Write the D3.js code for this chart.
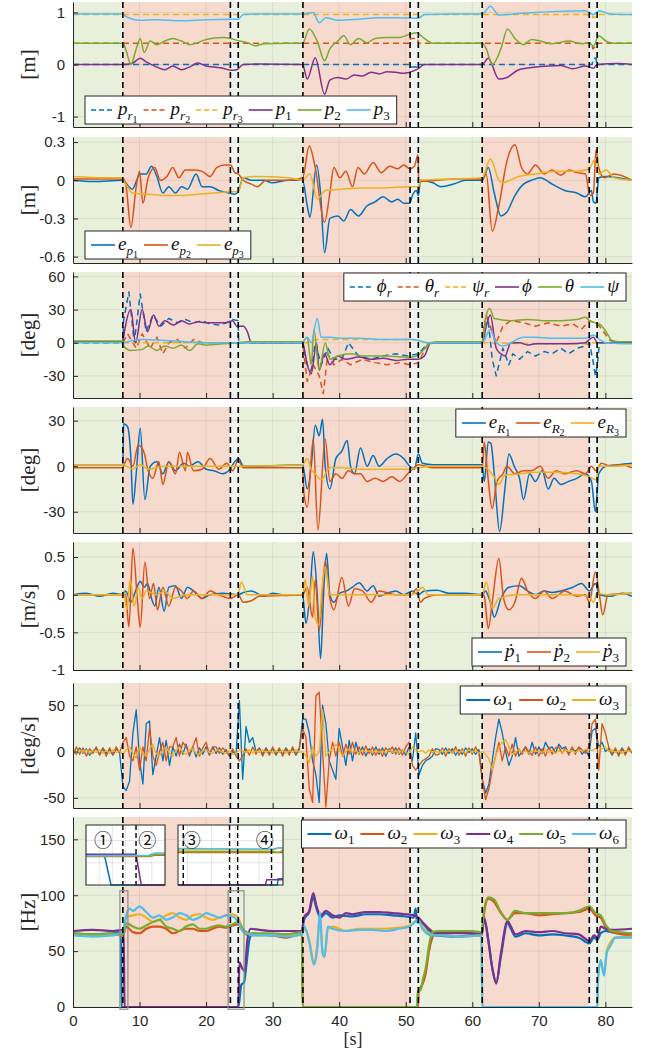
<!DOCTYPE html>
<html>
<head>
<meta charset="utf-8">
<script src="https://cdn.jsdelivr.net/npm/d3@7"></script>
<style>
  body { margin: 0; background: #fff; }
</style>
</head>
<body>
<div id="chart"></div>
<script>
const W = 646, H = 1050;
const X0 = 73, X1 = 632;

const C = {blue: "#0072BD", orange: "#D95319", yellow: "#EDB120", purple: "#7E2F8E", green: "#77AC30", cyan: "#4DBEEE"};

// event markers and phases
const eventLines = [7.49, 23.65, 24.83, 34.55, 50.65, 51.89, 61.49, 77.58, 78.76];
const bands = [[0, 7.49, "g"], [7.49, 23.65, "p"], [23.65, 24.83, "w"], [24.83, 34.55, "g"], [34.55, 50.65, "p"],
  [50.65, 51.89, "w"], [51.89, 61.49, "g"], [61.49, 77.58, "p"], [77.58, 78.76, "w"], [78.76, 84, "g"]];
const bandFill = {g: "#e8f0db", p: "#f6dacd", w: "#f1f3f1"};
const xTicks = [0, 10, 20, 30, 40, 50, 60, 70, 80];

// ---- panel 1: positions [m]
const pr1 = [[0,0],[50.6,0],[50.7,-0.05],[51.8,-0.05],[51.9,0],[78.0,0],[78.2,0.12],[78.6,0.12],[78.7,0],[84,0]];
const pr2 = [[0,0.41],[50.6,0.41],[50.7,0.5],[51.8,0.5],[51.9,0.41],[78.0,0.41],[78.1,0.3],[78.6,0.35],[78.7,0.41],[84,0.41]];
const pr3 = [[0,0.96],[78.0,0.96],[78.1,0.9],[78.7,0.92],[78.8,0.96],[84,0.96]];
const p1 = [[0,0],[7.5,0],[9,0.03],[10.1,0.12],[11,0.05],[12.6,-0.05],[13.8,-0.1],[15,-0.03],[16.3,-0.1],[17.5,-0.05],[18.8,0.03],[20,-0.03],[21.2,-0.05],[22.5,-0.07],[23.7,-0.11],[24.6,-0.1],[25.6,0],[28,0.01],[34.5,0],[35.2,-0.28],[36.4,0.13],[37.8,-0.57],[38.6,-0.3],[39.8,-0.25],[41,-0.28],[42.3,-0.2],[43.5,-0.22],[44.8,-0.15],[46,-0.18],[47.2,-0.14],[48.5,-0.15],[49.7,-0.17],[50.6,-0.15],[51.9,-0.08],[52.8,0],[61.5,0],[62.4,0.12],[64,-0.28],[65.2,-0.25],[67,-0.1],[69.5,-0.05],[71.4,-0.03],[73.3,-0.02],[75.1,-0.08],[77,-0.03],[78.2,-0.07],[78.8,0],[81.9,0.02],[84,0]];
const p2 = [[0,0.41],[7.5,0.41],[7.9,0.3],[8.7,0],[9.5,0.3],[10.1,0.5],[10.7,0.23],[11.6,0.45],[12.6,0.38],[13.8,0.45],[15,0.5],[16.3,0.45],[17.5,0.38],[18.8,0.42],[20,0.48],[22.5,0.52],[23.7,0.5],[25,0.45],[26.2,0.42],[27.4,0.36],[28.7,0.4],[32.4,0.41],[34.5,0.41],[35.5,0.68],[36.7,0.45],[37.8,0.07],[38.6,0.3],[39.8,0.45],[40.7,0.55],[41.7,0.38],[42.9,0.5],[44.2,0.42],[45.4,0.5],[47.2,0.52],[49.1,0.52],[50.6,0.58],[51.6,0.61],[52.8,0.5],[54.1,0.41],[61.5,0.41],[62.1,0.3],[63,0],[64.3,0.3],[65.3,0.68],[66.4,0.5],[67.7,0.38],[68.9,0.48],[70.2,0.45],[72,0.4],[74.5,0.45],[76.4,0.4],[77.6,0.42],[78.2,0.35],[79,0.55],[80.1,0.45],[81.3,0.41],[84,0.41]];
const p3 = [[0,0.97],[7.5,0.97],[7.6,0.95],[10.1,0.85],[12.6,0.86],[16.3,0.84],[20,0.86],[23.7,0.87],[24.8,0.87],[25.6,0.96],[28.7,0.97],[34.5,0.97],[36.1,1.0],[37,0.8],[38,0.9],[39.8,0.85],[42.9,0.87],[46,0.9],[48.5,0.9],[51.9,0.89],[52.8,0.96],[57.2,0.97],[61.5,0.97],[62.7,1.12],[64,0.95],[67,0.98],[69.5,1.0],[72.6,1.02],[77,1.03],[78.2,0.96],[79.1,1.03],[80.7,0.97],[84,0.96]];

// ---- panel 2: position errors [m]
const ep1 = [[0,0],[3,-0.01],[7.5,0],[7.9,-0.02],[8.9,-0.07],[10.1,0.05],[11,0.05],[11.8,0.11],[12.6,0.03],[13.5,-0.1],[14.4,-0.05],[15.4,-0.1],[16.3,-0.05],[17.2,-0.07],[18.5,0.05],[19.4,-0.05],[20.6,-0.05],[21.9,-0.08],[23.4,-0.1],[24.3,-0.11],[24.8,-0.09],[25.6,0.02],[26.8,0],[28.7,0],[29.9,-0.02],[32.4,0],[34.5,0],[35.2,-0.2],[35.6,-0.29],[36.6,0.12],[37.2,-0.1],[37.8,-0.57],[38.6,-0.3],[39.8,-0.28],[40.7,-0.32],[41.7,-0.23],[42.9,-0.28],[44.2,-0.2],[45.4,-0.17],[46.6,-0.13],[47.9,-0.17],[48.8,-0.15],[49.7,-0.18],[50.6,-0.18],[51,-0.12],[51.6,-0.08],[51.9,-0.12],[52.2,0],[54.1,-0.02],[55.3,-0.05],[57.2,-0.03],[59,0],[61.5,0],[62.4,0.1],[63.3,-0.1],[64.3,-0.28],[65.2,-0.25],[66.4,-0.12],[67.7,-0.03],[68.9,0],[70.2,0.02],[72,-0.03],[73.9,-0.08],[75.7,-0.1],[77,-0.13],[77.9,-0.08],[78.2,-0.17],[78.6,-0.18],[79,0.02],[80.1,0.03],[81.9,0.02],[84,0]];
const ep2 = [[0,0.01],[7.5,0.01],[7.9,-0.02],[8.7,-0.37],[9.5,-0.05],[10,0.07],[10.5,-0.18],[11.3,0.02],[12.3,0.1],[13.1,0],[14.1,0.03],[15,0.1],[15.9,0.02],[16.9,0.08],[18.1,0.08],[19.4,0.07],[20.6,0.03],[21.6,0.1],[22.8,0.12],[23.7,0.12],[24.3,0.06],[24.8,0.05],[25.6,0],[26.8,-0.03],[27.7,-0.05],[29,0],[32.4,0],[34.5,0.02],[35.5,0.27],[36.4,0.1],[37.8,-0.33],[38.6,-0.1],[39.2,0.1],[40.1,0.02],[41,0.07],[42,-0.05],[42.8,0.1],[43.8,0.05],[45.1,0.14],[46.3,0.06],[47.6,0.11],[48.8,0.09],[49.7,0.12],[50.6,0.09],[51.3,0.11],[51.85,0.2],[51.95,-0.01],[54.7,0],[57.2,0.01],[61.5,0.01],[62.1,0.05],[63,-0.4],[64,-0.2],[65.2,0.15],[66.4,0.28],[67.4,0.1],[68.3,0.05],[69.5,0.12],[70.8,0.05],[72,0.08],[73.3,0.04],[74.5,0.08],[75.7,0.06],[77,0.05],[77.7,-0.12],[78.2,-0.1],[78.6,0.24],[79,0.1],[79.8,0.02],[81.3,0.05],[84,0]];
const ep3 = [[0,0.03],[5,0.02],[7.5,0.02],[7.6,0],[8.2,-0.05],[8.9,-0.1],[11.3,-0.11],[13.8,-0.12],[16.3,-0.12],[18.8,-0.11],[21.2,-0.1],[23.7,-0.09],[24.8,-0.09],[25.6,0.02],[27.4,0.03],[32.4,0.02],[34.5,0],[35.6,0.05],[36.7,-0.15],[37.9,-0.08],[40.4,-0.07],[43.5,-0.06],[46.6,-0.06],[50.6,-0.05],[51.9,-0.05],[52.2,0],[57.2,0.01],[61.5,0.02],[62.7,0.17],[64,0],[64.5,-0.02],[67,0.03],[69.5,0.05],[72.6,0.07],[75.7,0.07],[77.6,0.09],[78.2,0.15],[78.6,0.17],[79,0.05],[80.1,0.08],[81.3,0.02],[84,0]];

// ---- panel 3: attitude [deg]
const phiR = [[0,0],[7.5,0],[7.6,20],[8.4,46],[9.2,0],[10.1,44],[11,10],[12,25],[13.2,15],[14.4,22],[15.7,18],[16.9,21],[18.1,18],[19.4,20],[20.6,17],[21.9,16],[23.1,18],[24,21],[24.8,20],[24.9,0],[34.5,0],[35.2,-20],[35.8,-25],[36.4,0],[37.3,-20],[38.3,-5],[39.2,-15],[40.4,-15],[41.4,0],[42.9,-12],[44.8,-15],[46.6,-12],[48.5,-10],[50.3,-12],[51.9,-10],[53.4,0],[61.5,0],[61.8,15],[62.4,20],[63,-15],[63.6,-30],[64.6,-5],[65.5,-20],[66.1,-10],[67.1,-15],[68.3,-8],[69.5,-12],[70.8,-8],[72,-10],[73.3,-5],[74.5,-10],[75.7,-5],[77,-3],[77.6,0],[78.1,-15],[78.5,-30],[78.8,-20],[79.1,0],[84,0]];
const thetaR = [[0,0],[7.5,0],[8.2,8],[9.5,-5],[10.4,8],[11.6,-5],[12.6,5],[13.5,-10],[14.4,0],[15.7,3],[16.9,-5],[18.1,3],[19.4,0],[24.8,0],[34.5,0],[35.2,-35],[36.1,-20],[37,-30],[37.6,-46],[38.3,-10],[39.2,-20],[40.4,-15],[41.7,-20],[43.5,-15],[45.4,-18],[47.2,-20],[49.1,-18],[50.6,-20],[51.9,-18],[53.4,0],[61.5,0],[61.8,15],[62.1,25],[63,10],[63.6,0],[64.6,15],[65.8,20],[67.7,18],[69.5,15],[71.4,18],[73.3,15],[75.1,17],[76.4,12],[77.6,20],[78.5,18],[79.1,15],[80.7,2],[81.9,0],[84,0]];
const psiR = [[0,0],[35,0],[36.5,3],[50.6,3],[51.9,2],[53,0],[61.5,0],[70,-1],[77,-1],[78,0],[84,0]];
const phi = [[0,1],[7.5,1],[7.6,5],[8.7,30],[9.4,0],[10.4,30],[11.2,10],[12.1,25],[12.9,15],[13.8,20],[15.1,16],[16.3,20],[17.5,17],[18.8,19],[20,18],[21.2,18],[22.8,18],[24,20],[24.6,15],[25.6,15],[26.2,10],[26.8,0],[28,0],[34.5,0],[35.2,-20],[35.8,-28],[36.6,0],[37,-25],[37.8,-10],[38.6,-20],[39.8,-12],[41,-15],[42.9,-13],[44.8,-15],[46.6,-14],[48.5,-16],[50.3,-15],[51.9,-15],[52.8,-12],[53.8,0],[61.5,0],[62.1,15],[62.7,25],[63.6,-5],[64.3,-10],[64.9,-12],[65.8,0],[67.1,0],[68.3,-2],[69.5,-1],[72,-1],[74.5,-1],[77,0],[77.6,3],[78.2,5],[78.8,0],[84,0]];
const theta = [[0,1.5],[7.5,1.5],[7.6,-3],[8.7,-7],[10.4,-6],[11.3,-3],[12.6,-7],[13.8,-3],[15,-5],[16.3,-2],[17.5,-7],[18.8,-1],[20,-2],[22.5,-1],[24.6,0],[26.2,1],[34.5,1],[35.2,5],[35.8,-20],[36.2,12],[37,-25],[37.9,0],[38.6,-15],[39.8,-12],[41.7,-10],[43.5,-12],[45.4,-12],[47.2,-12],[49.7,-13],[51,-13],[51.9,-11],[53.8,0],[54.7,1],[61.5,1],[62.1,25],[62.6,31],[63.3,22],[65.8,20],[68.3,21],[70.8,20],[73.3,20],[75.7,21],[77,23],[77.6,20],[78.5,18],[79.1,17],[80.1,10],[81,2],[81.9,1],[84,1]];
const psi = [[0,0],[7.5,0],[8.9,2],[10.7,3],[13.8,2],[16.9,1],[20,0],[24.8,0],[34.5,0],[35.2,5],[35.8,0],[36.7,22],[37.3,5],[38.6,5],[40.4,4],[42.9,4],[46,3],[49.1,3],[50.9,3],[51.9,2],[53.4,0],[61.5,0],[62.7,12],[63.6,0],[64.6,-3],[65.8,0],[67.7,5],[69.5,5],[72,4],[74.5,4],[77,4],[78.2,7],[79.1,3],[80.1,0],[84,-1]];

// ---- panel 4: attitude errors [deg]
const eR1 = [[0,1],[7.5,1],[7.6,28],[8.2,26],[8.7,5],[9,-25],[9.5,-5],[10.1,25],[10.8,-22],[11.6,0],[12.6,3],[13.5,-5],[14.4,3],[15.4,-3],[16.6,2],[17.5,0],[18.8,3],[20,-2],[21.2,-3],[22.5,-5],[23.4,-3],[24.3,3],[24.9,5],[25.6,0],[27.4,0],[34.5,1],[35.2,-15],[35.8,0],[36.4,27],[37,20],[37.5,31],[37.9,0],[38.6,-15],[39.5,5],[40.4,10],[41.2,17],[41.7,0],[42.3,-5],[43.2,12],[44.2,0],[45.1,7],[46,0],[47.2,5],[48.5,8],[49.7,5],[50.6,0],[51.3,-2],[51.9,8],[52.5,2],[54.1,1],[61.5,1],[61.8,-10],[62.4,16],[62.8,15],[63.3,-5],[64.1,-43],[64.9,-15],[65.5,8],[66.3,0],[67.1,-8],[67.7,-22],[68.6,-5],[69.5,-10],[70.5,-3],[71.4,-15],[72.3,-8],[73.3,-12],[74.5,-10],[75.7,-8],[77,-5],[77.9,-10],[78.5,-30],[79,-5],[80.1,0],[81.9,1],[84,2]];
const eR2 = [[0,-1],[7.5,-1],[7.6,0],[8.2,5],[9,0],[9.8,14],[10.6,10],[11.3,-3],[12,-8],[12.9,3],[13.5,-12],[14.4,3],[15.4,-5],[16,9],[16.9,-3],[17.2,9],[18.1,-3],[19.4,-2],[20.6,5],[21.9,-2],[23.1,2],[24,-3],[24.8,4],[25.6,-1],[34.5,-1],[34.7,-18],[35.2,-27],[36.1,18],[36.8,-42],[37.9,18],[38.6,-10],[39.5,-5],[40.4,-8],[41.4,-3],[42.3,-5],[43.2,-5],[44.2,-10],[45.4,-8],[46.6,-10],[47.9,-7],[49.1,-10],[50.3,-5],[51,-2],[51.9,1],[54.1,-1],[61.5,-1],[61.8,16],[62.3,-5],[63,-28],[63.7,-10],[64.6,-5],[65.2,0],[66.4,-5],[67.7,-3],[68.9,-3],[70.2,0],[71.4,-8],[72.6,-3],[73.9,-5],[75.7,-3],[77,-5],[77.9,0],[78.6,-3],[79.4,2],[80.7,0],[82.5,1],[84,-1]];
const eR3 = [[0,1],[7.5,1],[8.9,-2],[10.1,1],[11.3,-2],[13.8,0],[20,0],[24.8,0],[34.5,1],[35.2,5],[35.8,-2],[36.4,-5],[37.3,-9],[38.6,-1],[40.4,-1],[42.9,-2],[46.6,-2],[50.3,-2],[51.9,-1],[54.1,0],[61.5,0],[63.3,-7],[64,-12],[64.9,-6],[67.1,-5],[69.5,-4],[72.6,-4],[75.7,-5],[77.6,-7],[78.6,-9],[79,0],[80.7,0],[84,1]];

// ---- panel 5: velocities [m/s]
const pd1 = [[0,0],[2,0.02],[4,-0.02],[6,0.02],[7.5,0],[7.9,0.05],[8.7,-0.1],[9.4,0.05],[10.1,0.18],[10.7,0.1],[11.2,0.15],[11.8,-0.05],[12.3,-0.15],[12.9,0.1],[13.7,-0.22],[14.4,0.1],[15.4,0.12],[16.3,-0.05],[17.2,0.1],[18.1,0.05],[19.4,-0.05],[20.6,0],[22.5,0.02],[24.8,0],[25.6,0.03],[26.8,0.05],[28.7,-0.02],[30,0.02],[32,-0.01],[34.5,0],[35,-0.38],[35.6,0],[36.1,0.57],[36.7,0],[37.2,-0.85],[37.7,0.1],[38.1,0.55],[38.6,0],[39.2,-0.1],[40.1,0.02],[41.1,0.05],[42,0.1],[43,0.16],[44.2,0.05],[45.1,0.12],[46,-0.02],[47.2,0.02],[48.5,0.05],[49.7,0],[51,0.05],[51.9,0],[52.8,0.05],[54.7,0.06],[56.5,0.02],[59,0.02],[61.5,0],[62,0.05],[62.7,-0.1],[63.3,-0.3],[64.3,-0.05],[65.5,0.1],[67.1,0.12],[68.3,0.05],[69.5,0],[70.8,0.05],[72,0.03],[73.3,0.05],[75.1,0.1],[76.4,0.15],[77.6,0.05],[78.5,0.15],[79.1,0],[80.7,-0.02],[82.5,0.02],[84,-0.02]];
const pd2 = [[0,0],[7.5,0],[7.9,0],[8.4,-0.43],[9,0.62],[9.7,-0.1],[10.1,-0.43],[10.8,0.43],[11.5,-0.05],[12.1,0.15],[12.7,-0.2],[13.5,0.1],[14.4,-0.15],[15.4,0.1],[16.3,0.05],[17.2,-0.05],[18.1,0.05],[19.4,-0.05],[20.6,0.05],[21.9,0],[23.7,-0.05],[24.8,0],[25.6,-0.1],[26.8,-0.08],[28,-0.02],[34.5,0],[35.2,0.1],[36,-0.3],[36.4,0.2],[37,-0.48],[37.9,0.45],[38.6,-0.05],[39.2,-0.2],[40.4,0.23],[41.4,-0.15],[42.3,0.08],[43.5,0.05],[44.8,-0.1],[46,0.05],[48.5,0],[50.9,0],[51.6,0.08],[52.2,-0.1],[52.8,-0.05],[54.7,0],[61.5,0],[61.8,-0.02],[62.4,-0.45],[63,-0.1],[64,0.48],[64.7,-0.05],[65.5,-0.2],[66.4,-0.1],[67.4,0.22],[68.3,0.05],[69.5,-0.05],[70.8,0.05],[72,-0.05],[73.9,0.05],[75.7,-0.02],[77,0],[77.6,-0.1],[78.5,0.3],[79.1,0],[79.6,-0.27],[80.4,0],[84,0.02]];
const pd3 = [[0,0],[7.5,0],[7.6,0.05],[8.1,-0.2],[8.6,0.2],[9.2,-0.15],[9.8,0.1],[10.4,-0.05],[11,0.05],[12.6,0],[13.8,0.05],[15,-0.05],[16.9,0],[24.8,0],[25.3,0.17],[26.2,0],[28.7,0],[34.5,0],[34.9,0.2],[35.4,-0.15],[36,0.25],[36.4,-0.3],[36.9,-0.4],[37.5,0.15],[37.9,0.37],[38.6,0],[50.6,0],[51.9,0.05],[52.5,0.1],[53.4,0],[61.5,0],[62.1,0.17],[63,-0.18],[64,-0.05],[67.1,0],[75.7,0],[77.6,-0.03],[78.2,-0.1],[78.8,0.02],[80.1,0],[84,0.02]];

// ---- panel 6: angular rates [deg/s], one value every 0.5 s (rows of 5 s)
const rateStep = 0.5;
const om1 = [
  2,-3,4,-2,3,-4,1,3,-3,4,
  -2,2,-4,3,-1,-38,-42,-32,20,45,
  -10,-35,30,33,-25,-5,15,-10,12,-15,
  5,-5,8,-3,8,-5,5,-6,4,-3,
  5,-4,5,-2,4,-3,2,-5,0,-3,
  55,-30,27,10,15,0,4,-3,4,-2,
  3,-4,2,-3,4,-1,3,-4,2,35,
  35,20,-10,-25,-55,50,30,-10,-20,-30,
  25,5,-15,12,-10,10,-3,5,-5,3,
  -4,5,-3,4,-5,3,-2,4,-3,2,
  -4,5,-10,20,-25,-15,-10,-8,-5,3,
  2,-3,4,-2,3,-4,2,-3,4,-1,
  3,-3,2,-30,-45,-35,-10,15,35,20,
  0,-15,-5,15,-5,0,5,-3,10,-3,
  5,-2,10,3,5,-2,8,3,5,-2,
  3,0,4,-3,2,-5,22,25,5,10,
  0,3,-4,2,-3,4,-2,3,-1];
const om2 = [
  -4,5,-3,4,-5,3,-2,5,-4,3,
  -5,4,-3,5,-2,10,15,-5,-10,5,
  -20,5,-10,25,-5,-15,0,10,-10,5,
  5,15,-5,10,5,-3,5,15,-5,4,
  10,-3,5,5,-2,4,0,-4,3,-5,
  -10,-5,3,-4,5,-3,4,-5,3,-4,
  5,-3,4,-5,3,-4,5,-3,4,25,
  15,-40,-55,60,64,0,-60,-10,10,-5,
  10,-5,8,-3,10,-3,5,-4,6,-2,
  5,-4,3,-5,4,0,5,-3,4,-4,
  5,10,-15,-20,-15,-10,-8,-5,3,-4,
  -3,4,-5,3,-2,5,-4,3,-5,4,
  -3,5,-2,-30,-52,-40,-20,-5,10,-10,
  5,-5,8,-5,3,-3,5,0,-4,5,
  -5,3,-5,5,-3,4,5,-2,4,-4,
  5,-3,5,2,-2,5,30,35,-20,30,
  20,5,-3,4,-5,3,-4,5,-2];
const om3 = [
  1,-2,2,-1,2,-2,1,-1,2,-2,
  1,-2,2,-1,1,-3,2,5,-2,-7,
  5,-2,-5,3,8,-2,-5,2,5,-2,
  -5,2,5,-1,-3,2,3,-2,-3,1,
  2,-1,-2,1,2,-1,-2,1,-3,-2,
  2,1,-1,2,-2,1,-1,2,-1,1,
  -2,1,-1,2,-2,1,-1,2,-1,0,
  -5,-12,5,-5,0,45,-5,0,3,8,
  3,-5,0,3,-1,1,-2,2,-1,1,
  -2,2,-1,1,-2,2,-1,1,-2,2,
  -1,-3,5,2,0,1,-2,2,-1,1,
  -2,2,-1,1,-2,2,-1,1,-2,2,
  -1,1,-2,0,-3,-8,-20,-5,5,10,
  13,5,-3,0,2,-1,1,-2,1,0,
  1,-1,2,-1,1,-2,1,-1,2,0,
  1,-1,2,0,2,3,1,3,5,3,
  5,0,2,-1,1,-2,1,0,1];

// ---- panel 7: rotor speeds [Hz]
const m1 = [[0,66],[3,65],[6,66],[7.2,67],[7.3,0],[24.85,0],[25.3,20],[25.7,22],[26.1,40],[26.5,60],[27,66],[28,65],[30,64],[32,65],[34.4,66],[34.7,78],[35.5,85],[36.1,98],[36.6,88],[37.2,80],[38,84],[39,80],[40,82],[42,81],[44,83],[46,83],[48,82],[50,81],[51.2,80],[51.5,88],[51.7,76],[52.5,75],[53.5,68],[54.5,64],[57,63],[60,64],[61.4,64],[61.8,78],[62.4,60],[63,35],[63.6,22],[64.3,45],[65.3,75],[65.8,70],[66.5,63],[68,66],[70,64],[72,65],[74,64],[76,62],[77.6,57],[78.3,62],[78.8,60],[79.3,66],[80,68],[81,67],[84,66]];
const m2 = [[0,65],[3,64],[6,65],[7.5,64],[8,72],[9,67],[10,66],[11,70],[12,72],[13,72],[14,70],[15,66],[16,68],[17,70],[18,70],[19,68],[20,68],[21,70],[22,72],[23,71],[24,73],[24.8,74],[25.5,68],[26.5,64],[28,65],[30,64],[32,62],[34.4,66],[34.5,0],[51.85,0],[51.95,15],[52.5,20],[53,30],[53.5,50],[54,62],[54.5,66],[57,67],[60,66],[61.4,65],[61.8,85],[62.4,97],[63.3,94],[64.2,85],[65.3,78],[66.4,84],[68,84],[70,82],[72,83],[74,84],[76,85],[77.6,88],[78.5,82],[79.3,80],[80,72],[81,67],[84,64]];
const m3 = [[0,65],[3,64],[6,65],[7.5,65],[8,80],[9,82],[10,83],[11,80],[12,76],[13,78],[14,82],[15,84],[16,80],[17,78],[18,82],[19,83],[20,80],[21,78],[22,80],[23,82],[24,83],[24.8,80],[25.5,70],[26.5,65],[28,64],[30,65],[32,64],[34.4,66],[34.8,70],[35.5,60],[36.2,40],[36.7,55],[37.1,80],[37.5,50],[37.8,45],[38.3,70],[39,72],[41,68],[43,70],[45,70],[47,70],[49,71],[50.6,73],[51.9,78],[52.5,72],[54,65],[56,64],[58,63],[61.4,64],[61.5,0],[78.8,0],[78.9,28],[79.3,40],[79.8,30],[80.2,50],[80.8,58],[81.5,62],[84,63]];
const m4 = [[0,68],[3,69],[6,68],[7.6,69],[7.75,0],[24.85,0],[25,40],[25.4,35],[25.8,32],[26.2,60],[26.7,70],[28,69],[30,68],[32,68],[34.4,68],[34.7,80],[35.5,86],[36.1,102],[36.6,90],[37.2,82],[38,86],[39,82],[40,80],[41,84],[42,83],[44,85],[46,85],[48,84],[50,83],[51.2,82],[51.9,80],[52.5,76],[53.5,70],[54.5,66],[57,66],[60,66],[61.4,66],[61.8,80],[62.4,60],[63,35],[63.6,21],[64.3,48],[65.3,77],[65.8,72],[66.5,65],[68,68],[70,67],[72,68],[74,66],[76,65],[77.6,59],[78.3,64],[78.8,62],[79.3,72],[80,70],[81,69],[84,70]];
const m5 = [[0,66],[3,65],[6,66],[7.5,65],[8,75],[9,72],[10,70],[11,73],[12,76],[13,78],[14,72],[15,70],[16,68],[17,72],[18,74],[19,70],[20,70],[21,72],[22,73],[23,72],[24,74],[24.8,76],[25.5,70],[26.5,66],[28,66],[30,66],[32,65],[34.4,67],[34.5,0],[51.7,0],[51.8,14],[52.2,15],[52.6,25],[53,35],[53.5,55],[54,67],[55,68],[57,68],[60,68],[61.4,67],[61.8,88],[62.4,98],[63.3,96],[64.2,86],[65.3,78],[66.4,86],[68,84],[70,84],[72,84],[74,84],[76,86],[77.6,90],[78.5,84],[79.3,82],[80,74],[81,68],[84,66]];
const m6 = [[0,64],[3,63],[6,64],[7.5,68],[8,82],[8.5,88],[9,86],[10,90],[11,85],[12,80],[13,82],[14,78],[15,80],[16,84],[17,82],[18,78],[19,80],[20,84],[21,82],[22,80],[23,82],[24,81],[24.8,76],[25.5,68],[26.5,65],[28,64],[30,64],[32,63],[34.4,65],[34.8,72],[35.5,58],[36.2,38],[36.7,52],[37.1,85],[37.5,48],[37.8,45],[38.3,72],[39,70],[41,68],[43,69],[45,69],[47,68],[49,70],[50.6,72],[51.9,78],[52.5,70],[54,64],[56,64],[58,63],[61.4,64],[61.5,0],[78.8,0],[78.9,25],[79.3,42],[79.8,28],[80.2,48],[80.8,55],[81.5,62],[84,62]];

// zoom markers in panel 7 and their insets
const zoomBoxes = [[7.05, 8.25, -2, 104], [23.3, 25.7, -2, 104]];
const insA = {
  w1: [[7.0,67],[7.28,67],[7.38,0],[8.2,0]], w2: [[7.0,64],[7.95,64],[8.05,67],[8.2,67]],
  w3: [[7.0,66],[7.95,66],[8.05,70],[8.2,70]], w4: [[7.0,69],[7.76,69],[7.84,0],[8.2,0]],
  w5: [[7.0,65],[7.95,65],[8.05,68],[8.2,68]], w6: [[7.0,66],[7.95,67],[8.05,72],[8.2,72]]
};
const insB = {
  w1: [[23.3,0],[25.38,0],[25.4,14],[25.5,14]], w2: [[23.3,73],[25.5,73]],
  w3: [[23.3,79],[25.3,79],[25.4,83],[25.5,82]], w4: [[23.3,0],[25.13,0],[25.16,12],[25.5,12]],
  w5: [[23.3,75],[25.3,75],[25.4,73],[25.5,78]], w6: [[23.3,82],[25.3,81],[25.4,84],[25.5,84]]
};

const toPairs = (vals, step) => vals.map((v, i) => [i * step, v]);

const panels = [
  {top: 2, bottom: 127, dom: [-1.2, 1.2], ticks: [-1, 0, 1], ylab: "[m]", legend: {x: 85, y: 96, align: "left"},
   series: [
     {d: pr1, c: C.blue, dash: true, lab: ["p","r","1"]}, {d: pr2, c: C.orange, dash: true, lab: ["p","r","2"]},
     {d: pr3, c: C.yellow, dash: true, lab: ["p","r","3"]}, {d: p1, c: C.purple, lab: ["p","1"]},
     {d: p2, c: C.green, lab: ["p","2"]}, {d: p3, c: C.cyan, lab: ["p","3"]}]},
  {top: 137, bottom: 263, dom: [-0.65, 0.34], ticks: [-0.6, -0.3, 0, 0.3], ylab: "[m]", legend: {x: 85, y: 231, align: "left"},
   series: [{d: ep1, c: C.blue, lab: ["e","p","1"]}, {d: ep2, c: C.orange, lab: ["e","p","2"]}, {d: ep3, c: C.yellow, lab: ["e","p","3"]}]},
  {top: 272, bottom: 398, dom: [-50, 64], ticks: [-30, 0, 30, 60], ylab: "[deg]", legend: {x: 626, y: 273, align: "right"},
   series: [
     {d: phiR, c: C.blue, dash: true, lab: ["ϕ","r"]}, {d: thetaR, c: C.orange, dash: true, lab: ["θ","r"]},
     {d: psiR, c: C.yellow, dash: true, lab: ["ψ","r"]}, {d: phi, c: C.purple, lab: ["ϕ"]},
     {d: theta, c: C.green, lab: ["θ"]}, {d: psi, c: C.cyan, lab: ["ψ"]}]},
  {top: 407, bottom: 533, dom: [-44, 39], ticks: [-30, 0, 30], ylab: "[deg]", legend: {x: 626, y: 409, align: "right"},
   series: [{d: eR1, c: C.blue, lab: ["e","R","1"]}, {d: eR2, c: C.orange, lab: ["e","R","2"]}, {d: eR3, c: C.yellow, lab: ["e","R","3"]}]},
  {top: 542, bottom: 670, dom: [-1, 0.7], ticks: [-1, -0.5, 0, 0.5], ylab: "[m/s]", legend: {x: 626, y: 638, align: "right"},
   series: [{d: pd1, c: C.blue, lab: ["ṗ","1"]}, {d: pd2, c: C.orange, lab: ["ṗ","2"]}, {d: pd3, c: C.yellow, lab: ["ṗ","3"]}]},
  {top: 683, bottom: 808, dom: [-61, 74], ticks: [-50, 0, 50], ylab: "[deg/s]", legend: {x: 626, y: 686, align: "right"},
   series: [{d: toPairs(om1, rateStep), c: C.blue, lw: 1.3, lab: ["ω","1"]},
            {d: toPairs(om2, rateStep), c: C.orange, lw: 1.3, lab: ["ω","2"]},
            {d: toPairs(om3, rateStep), c: C.yellow, lw: 1.3, lab: ["ω","3"]}]},
  {top: 817, bottom: 1007, dom: [0, 170], ticks: [0, 50, 100, 150], ylab: "[Hz]", legend: {x: 626, y: 820, align: "right"}, last: true,
   series: [{d: m1, c: C.blue, lw: 2.2, lab: ["ω","1"]}, {d: m2, c: C.orange, lw: 2.2, lab: ["ω","2"]},
            {d: m3, c: C.yellow, lw: 2.2, lab: ["ω","3"]}, {d: m4, c: C.purple, lw: 2.2, lab: ["ω","4"]},
            {d: m5, c: C.green, lw: 2.2, lab: ["ω","5"]}, {d: m6, c: C.cyan, lw: 2.2, lab: ["ω","6"]}]}
];

const svg = d3.select("#chart").append("svg").attr("width", W).attr("height", H)
  .style("font-family", "'Liberation Sans', Arial, sans-serif");
const defs = svg.append("defs");
const x = d3.scaleLinear().domain([0, 84]).range([X0, X1]);

function mathLabel(text, parts) {
  text.append("tspan").attr("font-style", "italic").attr("font-size", 19).text(parts[0]);
  if (parts[1]) text.append("tspan").attr("font-size", 13).attr("dy", 5)
    .attr("font-style", /[a-zA-Z]/.test(parts[1]) ? "italic" : "normal").text(parts[1]);
  if (parts[2]) text.append("tspan").attr("font-size", 10).attr("dy", 3).attr("font-style", "normal").text(parts[2]);
}

function drawLegend(g, items, pos) {
  const lg = g.append("g");
  const box = lg.append("rect").attr("fill", "#fff").attr("stroke", "#262626").attr("stroke-width", 1);
  let cx = 6;
  items.forEach(it => {
    lg.append("line").attr("x1", cx).attr("x2", cx + 24).attr("y1", 14).attr("y2", 14)
      .attr("stroke", it.c).attr("stroke-width", it.lw ? 2 : 1.6).attr("stroke-dasharray", it.dash ? "5,3" : null);
    cx += 27;
    const t = lg.append("text").attr("x", cx).attr("y", 19)
      .attr("font-family", "'Liberation Serif', 'DejaVu Serif', serif").attr("fill", "#111");
    mathLabel(t, it.lab);
    cx += t.node().getComputedTextLength() + 6;
  });
  const w = cx + 1, h = 28;
  box.attr("width", w).attr("height", h);
  const left = pos.align === "left" ? pos.x : pos.x - w;
  lg.attr("transform", `translate(${left},${pos.y})`);
}

function drawInset(g, b, dom, dashes, labels, data) {
  const ix = d3.scaleLinear().domain(dom).range([b.x, b.x + b.w]);
  const iy = d3.scaleLinear().domain([0, 135]).range([b.y + b.h, b.y]);
  const ig = g.append("g");
  ig.append("rect").attr("x", b.x).attr("y", b.y).attr("width", b.w).attr("height", b.h).attr("fill", "#fff");
  ig.selectAll("line.igx").data(ix.ticks(4)).join("line")
    .attr("x1", d => ix(d)).attr("x2", d => ix(d)).attr("y1", b.y).attr("y2", b.y + b.h)
    .attr("stroke", "#000").attr("stroke-opacity", 0.1);
  ig.selectAll("line.igy").data([50, 100]).join("line")
    .attr("x1", b.x).attr("x2", b.x + b.w).attr("y1", d => iy(d)).attr("y2", d => iy(d))
    .attr("stroke", "#000").attr("stroke-opacity", 0.1);
  const cols = {w1: C.blue, w2: C.orange, w3: C.yellow, w4: C.purple, w5: C.green, w6: C.cyan};
  const line = d3.line().x(d => ix(d[0])).y(d => iy(d[1]));
  Object.keys(data).forEach(k => {
    ig.append("path").datum(data[k]).attr("d", line).attr("fill", "none")
      .attr("stroke", cols[k]).attr("stroke-width", 1.5);
  });
  ig.selectAll("line.idash").data(dashes).join("line")
    .attr("x1", d => ix(d)).attr("x2", d => ix(d)).attr("y1", b.y).attr("y2", b.y + b.h)
    .attr("stroke", "#000").attr("stroke-width", 1.4).attr("stroke-dasharray", "5,3");
  ig.selectAll("text.ilab").data(labels).join("text")
    .attr("x", d => ix(d[1])).attr("y", b.y + 15).attr("text-anchor", "middle").attr("dominant-baseline", "central")
    .attr("font-family", "'DejaVu Serif', 'Noto Sans CJK SC', serif").attr("font-size", 18).attr("fill", "#111")
    .text(d => d[0]);
  ig.append("rect").attr("x", b.x).attr("y", b.y).attr("width", b.w).attr("height", b.h)
    .attr("fill", "none").attr("stroke", "#262626").attr("stroke-width", 1);
}

panels.forEach((p, i) => {
  const y = d3.scaleLinear().domain(p.dom).range([p.bottom, p.top]);
  const g = svg.append("g");
  const clipId = "clip" + i;
  defs.append("clipPath").attr("id", clipId).append("rect")
    .attr("x", X0).attr("y", p.top).attr("width", X1 - X0).attr("height", p.bottom - p.top);
  const plot = g.append("g").attr("clip-path", `url(#${clipId})`);

  plot.selectAll("rect.band").data(bands).join("rect")
    .attr("x", d => x(d[0])).attr("width", d => x(d[1]) - x(d[0]))
    .attr("y", p.top).attr("height", p.bottom - p.top).attr("fill", d => bandFill[d[2]]);

  plot.selectAll("line.gx").data(xTicks).join("line")
    .attr("x1", d => x(d)).attr("x2", d => x(d)).attr("y1", p.top).attr("y2", p.bottom)
    .attr("stroke", "#000").attr("stroke-opacity", 0.07);
  plot.selectAll("line.gy").data(p.ticks).join("line")
    .attr("x1", X0).attr("x2", X1).attr("y1", d => y(d)).attr("y2", d => y(d))
    .attr("stroke", "#000").attr("stroke-opacity", 0.07);

  p.series.forEach(s => {
    const line = d3.line().x(d => x(d[0])).y(d => y(d[1]))
      .curve(s.dash || s.lw === 1.3 ? d3.curveLinear : d3.curveMonotoneX);
    plot.append("path").datum(s.d).attr("d", line).attr("fill", "none")
      .attr("stroke", s.c).attr("stroke-width", s.lw || 1.5)
      .attr("stroke-linejoin", "round")
      .attr("stroke-dasharray", s.dash ? "6,4" : null);
  });

  plot.selectAll("line.ev").data(eventLines).join("line")
    .attr("x1", d => x(d)).attr("x2", d => x(d)).attr("y1", p.top).attr("y2", p.bottom)
    .attr("stroke", "#000").attr("stroke-width", 1.6).attr("stroke-dasharray", "6,4");

  // axes (inward ticks, no box)
  const ax = g.append("g").attr("transform", `translate(${X0},0)`)
    .call(d3.axisLeft(y).tickValues(p.ticks).tickSize(-5).tickSizeOuter(0).tickPadding(8).tickFormat(String));
  const bx = g.append("g").attr("transform", `translate(0,${p.bottom})`)
    .call(d3.axisBottom(x).tickValues(xTicks).tickSize(-5).tickSizeOuter(0).tickPadding(8)
      .tickFormat(p.last ? String : () => ""));
  [ax, bx].forEach(a => {
    a.select(".domain").attr("stroke", "#262626").attr("stroke-width", 1);
    a.selectAll(".tick line").attr("stroke", "#262626");
    a.selectAll("text").attr("font-size", 15).attr("fill", "#262626")
      .attr("font-family", "'Liberation Sans', Arial, sans-serif");
  });

  g.append("text").attr("transform", `translate(28,${(p.top + p.bottom) / 2}) rotate(-90)`)
    .attr("text-anchor", "middle").attr("dominant-baseline", "central")
    .attr("font-family", "'Liberation Serif', 'DejaVu Serif', serif").attr("font-size", 21)
    .attr("fill", "#262626").text(p.ylab);

  if (p.last) {
    g.selectAll("rect.zb").data(zoomBoxes).join("rect")
      .attr("x", d => x(d[0])).attr("width", d => x(d[1]) - x(d[0]))
      .attr("y", d => y(d[3])).attr("height", d => y(d[2]) - y(d[3]))
      .attr("fill", "none").attr("stroke", "#8c8c8c").attr("stroke-width", 1.2);
    drawInset(g, {x: 86, y: 825, w: 79, h: 60}, [7.0, 8.2], [7.56, 7.76], [["①", 7.26], ["②", 7.93]], insA);
    drawInset(g, {x: 178, y: 825, w: 105, h: 60}, [23.3, 25.5], [23.41, 24.38, 24.55, 25.26], [["③", 23.59], ["④", 25.12]], insB);
  }

  drawLegend(g, p.series, p.legend);
});

svg.append("text").attr("x", 353).attr("y", 1045).attr("text-anchor", "middle")
  .attr("font-family", "'Liberation Serif', 'DejaVu Serif', serif").attr("font-size", 18)
  .attr("fill", "#262626").text("[s]");
</script>
</body>
</html>
